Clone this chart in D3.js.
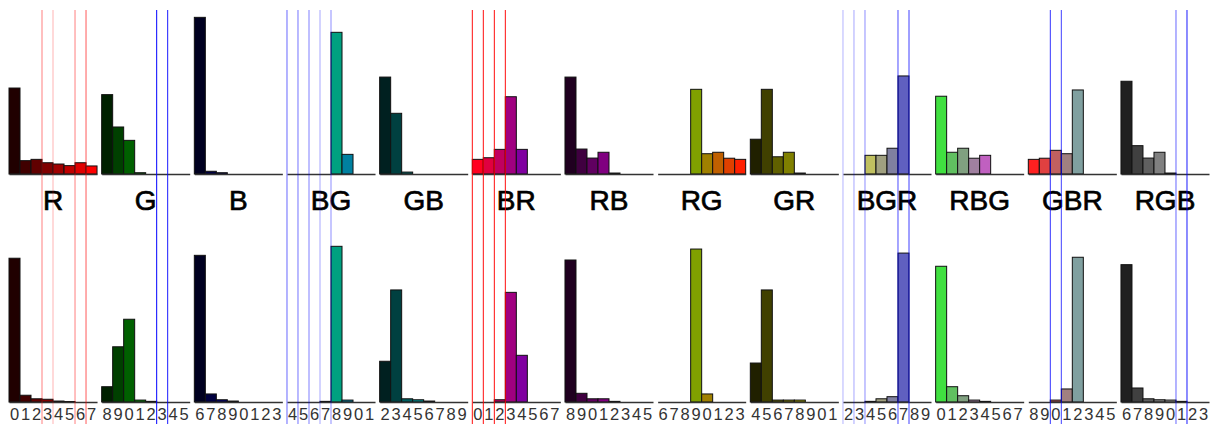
<!DOCTYPE html>
<html>
<head>
<meta charset="utf-8">
<script src="https://cdn.jsdelivr.net/npm/d3@7/dist/d3.min.js"></script>
<style>
  html, body { margin: 0; padding: 0; background: #fff; }
  svg { display: block; }
  .panel-label { font-family: 'Liberation Sans', Arial, sans-serif; font-size: 28px; fill: #000; stroke: #000; stroke-width: 0.7px; }
  .bin-axis text { font-family: 'Liberation Sans', Arial, sans-serif; font-size: 16.5px; fill: #333; }
  .bin-axis path { stroke: #333; stroke-width: 1.4px; }
  .bar { stroke: #111; stroke-width: 1px; }
</style>
</head>
<body>
<svg id="hist-svg" width="1220" height="424"></svg>
<script>
  'use strict'

  // panel names, in drawing order
  var panelNames = ['R', 'G', 'B', 'BG', 'GB', 'BR', 'RB', 'RG', 'GR', 'BGR', 'RBG', 'GBR', 'RGB']

  // top row: normalised histogram (8 bins per panel)
  var topValues = [
    [0.534, 0.083, 0.091, 0.070, 0.062, 0.052, 0.070, 0.050],
    [0.493, 0.292, 0.209, 0.008, 0, 0, 0, 0],
    [0.973, 0.017, 0.008, 0, 0, 0, 0, 0],
    [0, 0, 0, 0, 0.880, 0.122, 0, 0],
    [0.602, 0.377, 0.012, 0, 0, 0, 0, 0],
    [0.091, 0.101, 0.153, 0.480, 0.153, 0, 0, 0],
    [0.602, 0.155, 0.099, 0.135, 0.006, 0, 0, 0],
    [0, 0, 0, 0.526, 0.126, 0.135, 0.098, 0.091],
    [0.216, 0.526, 0.107, 0.135, 0.006, 0, 0, 0],
    [0, 0, 0.116, 0.116, 0.160, 0.609, 0, 0],
    [0.483, 0.135, 0.160, 0.098, 0.116, 0, 0, 0],
    [0.091, 0.098, 0.147, 0.126, 0.522, 0, 0, 0],
    [0.576, 0.176, 0.099, 0.135, 0.006, 0, 0, 0]
  ]

  // bottom row: normalised histogram (8 bins per panel)
  var bottomValues = [
    [0.893, 0.042, 0.020, 0.017, 0.006, 0.003, 0, 0],
    [0.095, 0.343, 0.514, 0.012, 0.004, 0, 0, 0],
    [0.911, 0.050, 0.014, 0.006, 0, 0, 0, 0],
    [0, 0, 0, 0.004, 0.967, 0.012, 0, 0],
    [0.253, 0.696, 0.020, 0.014, 0.006, 0, 0, 0],
    [0, 0, 0.014, 0.681, 0.290, 0, 0, 0],
    [0.882, 0.054, 0.020, 0.020, 0.004, 0, 0, 0],
    [0, 0, 0, 0.950, 0.050, 0, 0, 0],
    [0.242, 0.696, 0.012, 0.012, 0.012, 0, 0, 0],
    [0, 0, 0.004, 0.020, 0.033, 0.925, 0, 0],
    [0.843, 0.095, 0.039, 0.012, 0.004, 0, 0, 0],
    [0, 0, 0.012, 0.081, 0.899, 0, 0, 0],
    [0.853, 0.087, 0.020, 0.014, 0.012, 0.004, 0, 0]
  ]

  // colour of every bin, per panel
  var binColors = [
    ['#200000', '#400000', '#600000', '#800000', '#a00000', '#c00000', '#e00000', '#ff0000'],
    ['#002000', '#004000', '#006000', '#008000', '#00a000', '#00c000', '#00e000', '#00ff00'],
    ['#000020', '#000040', '#000060', '#000080', '#0000a0', '#0000c0', '#0000e0', '#0000ff'],
    ['#00ff00', '#00e040', '#00c060', '#00b070', '#00a080', '#0080a0', '#0060c0', '#0040e0'],
    ['#002020', '#004040', '#006060', '#008080', '#00a0a0', '#00c0c0', '#00e0e0', '#00ffff'],
    ['#ff0020', '#e00040', '#c00060', '#a00080', '#8000a0', '#6000c0', '#4000e0', '#2000ff'],
    ['#200020', '#400040', '#600060', '#800080', '#a000a0', '#c000c0', '#e000e0', '#ff00ff'],
    ['#20ff00', '#40e000', '#60c000', '#80a000', '#a08000', '#c06000', '#e04000', '#ff2000'],
    ['#202000', '#404000', '#606000', '#808000', '#a0a000', '#c0c000', '#e0e000', '#ffff00'],
    ['#ffff20', '#e0e040', '#c0c060', '#a0a080', '#8080a0', '#6060c0', '#4040e0', '#2020ff'],
    ['#40e040', '#60c060', '#80a080', '#a080a0', '#c060c0', '#e040e0', '#ff20ff', '#ff00ff'],
    ['#ff2020', '#e04040', '#c06060', '#a08080', '#80a0a0', '#60c0c0', '#40e0e0', '#20ffff'],
    ['#202020', '#404040', '#606060', '#808080', '#a0a0a0', '#c0c0c0', '#e0e0e0', '#ffffff']
  ]

  // vertical markers: panel index, bin edge, channel, strength
  var markerPanels = [0, 0, 0, 0, 1, 1, 3, 3, 3, 3, 3, 5, 5, 5, 5, 9, 9, 9, 9, 9, 11, 11, 12, 12]
  var markerEdges = [3, 4, 6, 7, 5, 6, 0, 1, 2, 3, 4, 0, 1, 2, 3, 0, 1, 2, 5, 6, 2, 3, 5, 6]
  var markerChannels = ['r', 'r', 'r', 'r', 'b', 'b', 'b', 'b', 'b', 'b', 'b', 'r', 'r', 'r', 'r', 'b', 'b', 'b', 'b', 'b', 'b', 'b', 'b', 'b']
  var markerOpacity = [0.5, 0.3, 0.5, 0.65, 1, 0.9, 0.6, 0.55, 0.5, 0.35, 0.45, 0.95, 0.95, 0.95, 0.95, 0.3, 0.35, 0.45, 0.7, 0.75, 0.8, 0.75, 0.6, 0.9]

  var binCount = 8
  var svg = d3.select('#hist-svg')

  var panelX = d3.scaleBand()
    .domain(panelNames)
    .range([9, 1209])
    .paddingInner(0.05)
    .paddingOuter(0)
  var binX = d3.scaleBand()
    .domain(d3.range(binCount))
    .range([0, panelX.bandwidth()])
  var edgeX = d3.scaleLinear()
    .domain([0, binCount])
    .range([0, panelX.bandwidth()])

  var rows = [
    { values: topValues, baseline: 174, labels: false },
    { values: bottomValues, baseline: 402, labels: true }
  ]
  var barSpan = 161

  rows.forEach(function (row, rI) {
    var y = d3.scaleLinear()
      .domain([0, 1])
      .range([row.baseline, row.baseline - barSpan])
    var rowG = svg.append('g').attr('class', 'row-g row-' + rI)
    var panelG = rowG.selectAll('.panel-g')
      .data(panelNames)
      .enter()
      .append('g')
      .attr('class', 'panel-g')
      .attr('transform', function (d) {
        return 'translate(' + panelX(d) + ',0)'
      })
    panelG.each(function (name, pI) {
      var g = d3.select(this)
      var bins = row.values[pI].map(function (v, i) {
        return { bin: i, value: v }
      }).filter(function (d) {
        return d.value > 0
      })
      g.selectAll('.bar')
        .data(bins)
        .enter()
        .append('rect')
        .attr('class', 'bar')
        .attr('x', function (d) { return binX(d.bin) })
        .attr('width', binX.bandwidth())
        .attr('y', function (d) { return y(d.value) })
        .attr('height', function (d) { return y(0) - y(d.value) })
        .attr('fill', function (d) { return binColors[pI][d.bin] })
      var axis = d3.axisBottom(binX)
        .tickSize(0)
        .tickSizeOuter(0)
        .tickPadding(6)
        .tickFormat(function (d) {
          return (pI * binCount + d) % 10
        })
      if (!row.labels) {
        axis.tickValues([])
      }
      g.append('g')
        .attr('class', 'bin-axis')
        .attr('transform', 'translate(0,' + row.baseline + ')')
        .call(axis)
      if (!row.labels) {
        g.append('text')
          .attr('class', 'panel-label')
          .attr('x', panelX.bandwidth() / 2)
          .attr('y', row.baseline + 36)
          .attr('text-anchor', 'middle')
          .text(name)
      }
    })
  })

  // marker lines drawn over everything
  var markers = markerPanels.map(function (p, i) {
    return { panel: p, edge: markerEdges[i], channel: markerChannels[i], opacity: markerOpacity[i] }
  })
  svg.append('g')
    .attr('class', 'marker-g')
    .selectAll('line')
    .data(markers)
    .enter()
    .append('line')
    .attr('x1', function (d) { return panelX(panelNames[d.panel]) + edgeX(d.edge) })
    .attr('x2', function (d) { return panelX(panelNames[d.panel]) + edgeX(d.edge) })
    .attr('y1', 10)
    .attr('y2', 424)
    .attr('stroke', function (d) { return d.channel === 'r' ? '#ff0000' : '#0000ff' })
    .attr('stroke-opacity', function (d) { return d.opacity })
    .attr('stroke-width', 1)
</script>
</body>
</html>
